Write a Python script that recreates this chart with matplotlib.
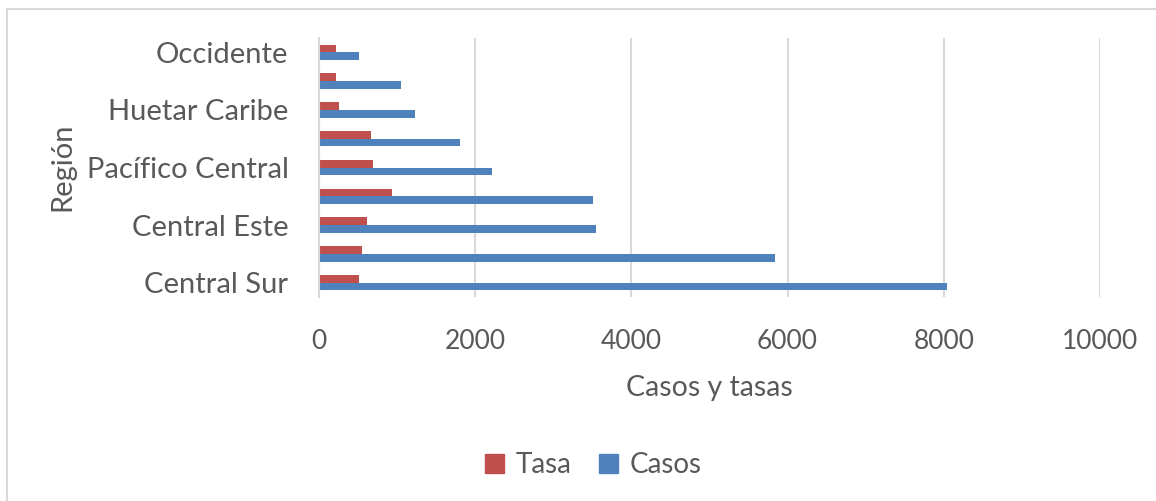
import matplotlib
matplotlib.use("Agg")
import matplotlib.pyplot as plt
from matplotlib.patches import Rectangle, Patch
import numpy as np

categories = ["Central Sur", "Central Norte", "Central Este", "Chorotega",
              "Pacífico Central", "Brunca", "Huetar Caribe", "Huetar Norte", "Occidente"]
casos = [8035, 5840, 3545, 3510, 2210, 1800, 1225, 1045, 512]
tasa = [516, 555, 610, 930, 687, 666, 252, 218, 218]
xticks = [0, 2000, 4000, 6000, 8000, 10000]

W, H = 1156, 501
plt.rcParams['font.family'] = ['Lato', 'DejaVu Sans']
fig = plt.figure(figsize=(W / 100, H / 100), dpi=100)
ax = fig.add_axes([319 / W, 1 - 297 / H, (1100 - 319) / W, (297 - 38) / H])

txt = "#595959"
red = "#C0504D"
blue = "#4F81BD"
grid = "#D9D9D9"

y = np.arange(len(categories))
h = 0.27
ax.barh(y - h / 2, casos, height=h, color=blue, label="Casos", zorder=3)
ax.barh(y + h / 2, tasa, height=h, color=red, label="Tasa", zorder=3)

ax.set_xlim(0, 10000)
ax.set_ylim(-0.5, len(categories) - 0.5)
ax.set_xticks(xticks)
ax.set_xticklabels([str(v) for v in xticks])
ax.set_yticks(y[::2])
ax.set_yticklabels(categories[::2])
ax.tick_params(axis='y', length=0, labelsize=21, colors=txt, pad=22)
ax.tick_params(axis='x', length=0, labelsize=19, colors=txt, pad=23)
ax.grid(axis='x', color=grid, linewidth=1.5, zorder=0)
for s in ["top", "right", "bottom"]:
    ax.spines[s].set_visible(False)
ax.spines["left"].set_color(grid)
ax.spines["left"].set_linewidth(1.5)
ax.spines["left"].set_zorder(4)

fig.text(709 / W, 1 - 388 / H, "Casos y tasas", ha="center", va="center", fontsize=20.5, color=txt)
fig.text(62 / W, 1 - 167 / H, "Región", ha="center", va="center", rotation=90, fontsize=21, color=txt)

handles = [Patch(color=red, label="Tasa"), Patch(color=blue, label="Casos")]
fig.legend(handles=handles, loc="center", bbox_to_anchor=(593 / W, 1 - 465 / H), ncol=2,
           frameon=False, fontsize=20, labelcolor=txt, handlelength=0.7, handleheight=0.7,
           handletextpad=0.4, columnspacing=1.0)

fig.add_artist(Rectangle((7 / W, -0.1), 1.2, 1 - 9 / H + 0.1, transform=fig.transFigure,
                         fill=False, edgecolor=grid, linewidth=1.5))

fig.savefig("out.png", dpi=100)
